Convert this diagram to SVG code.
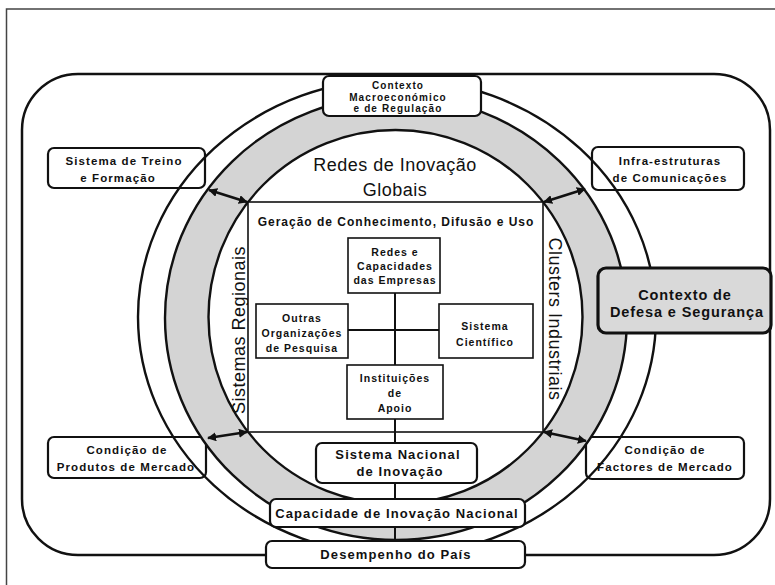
<svg xmlns="http://www.w3.org/2000/svg" width="775" height="585" viewBox="0 0 775 585">
  <style>
    .frame { fill: none; stroke: #444; stroke-width: 1.5; }
    .outline { fill: none; stroke: #111; stroke-width: 2.5; }
    .box { fill: #fff; stroke: #111; stroke-width: 2.2; }
    .sq { fill: #fff; stroke: #111; stroke-width: 1.6; }
    .ring { fill: none; stroke: #111; stroke-width: 2.4; }
    .band { fill: #d4d4d4; fill-rule: evenodd; stroke: none; }
    .link { fill: none; stroke: #111; stroke-width: 2; }
    .arrow { fill: none; stroke: #111; stroke-width: 2.6; marker-start: url(#head); marker-end: url(#head); }
    text { font-family: "Liberation Sans", Arial, sans-serif; fill: #111; text-anchor: middle; }
    .b { font-weight: bold; font-size: 11.5px; letter-spacing: 1.1px; }
    .g { font-weight: bold; font-size: 12px; letter-spacing: 1px; }
    .s { font-weight: bold; font-size: 10.5px; letter-spacing: 1px; }
    .t { font-weight: bold; font-size: 10px; letter-spacing: 1.1px; }
    .m { font-weight: bold; font-size: 13px; letter-spacing: 1.1px; }
    .big { font-size: 18px; letter-spacing: 0.5px; }
    .def { font-weight: bold; font-size: 14.5px; letter-spacing: 0.9px; }
  </style>
  <defs>
    <marker id="head" viewBox="0 0 10 10" refX="9" refY="5" markerWidth="9" markerHeight="9" markerUnits="userSpaceOnUse" orient="auto-start-reverse">
      <path d="M0,0 L10,5 L0,10 z" fill="#111"/>
    </marker>
  </defs>

  <!-- page frame (only its top and left edges fall on the page) -->
  <path class="frame" d="M6.5,585 V9 H775"/>

  <!-- rounded environment boundary -->
  <rect class="outline" x="22" y="74" width="748" height="481" rx="56" ry="56"/>

  <!-- side context boxes (crossed by the outer ring) -->
  <g id="treino">
    <rect class="box" x="48" y="148" width="157" height="40" rx="6"/>
    <text class="b" x="124" y="165">Sistema de Treino</text>
    <text class="b" x="118" y="182">e Formação</text>
  </g>
  <g id="infra">
    <rect class="box" x="592" y="147" width="152" height="43" rx="6"/>
    <text class="b" x="670" y="165">Infra-estruturas</text>
    <text class="b" x="670" y="182">de Comunicações</text>
  </g>
  <g id="produtos">
    <rect class="box" x="48" y="437" width="158" height="41" rx="6"/>
    <text class="b" x="127" y="454">Condição de</text>
    <text class="b" x="126" y="471">Produtos de Mercado</text>
  </g>
  <g id="factores">
    <rect class="box" x="586" y="437" width="158" height="42" rx="6"/>
    <text class="b" x="665" y="454">Condição de</text>
    <text class="b" x="665" y="471">Factores de Mercado</text>
  </g>

  <!-- ring: grey band between the middle ellipse and the inner circle -->
  <path class="band" d="M165,318 A231,222 0 1,0 627,318 A231,222 0 1,0 165,318 Z M208.5,317 A187,187 0 1,1 582.5,317 A187,187 0 1,1 208.5,317 Z"/>
  <ellipse class="ring" cx="397" cy="317" rx="259" ry="238"/>
  <ellipse class="ring" cx="396" cy="318" rx="231" ry="222"/>
  <circle class="ring" cx="395.5" cy="317" r="187"/>

  <text class="big" x="395" y="171">Redes de Inovação</text>
  <text class="big" x="395" y="196">Globais</text>
  <text class="big" transform="translate(245,330) rotate(-90)">Sistemas Regionais</text>
  <text class="big" transform="translate(549,319) rotate(90)">Clusters Industriais</text>

  <!-- knowledge generation square -->
  <g id="geracao">
    <rect class="sq" x="248" y="202" width="295" height="230"/>
    <text class="g" x="396" y="226">Geração de Conhecimento, Difusão e Uso</text>
  </g>

  <g id="connectors">
    <line class="link" x1="395" y1="293" x2="395" y2="365"/>
    <line class="link" x1="348" y1="330" x2="439" y2="330"/>
    <line class="link" x1="395" y1="419" x2="395" y2="541"/>
    <line class="arrow" x1="247" y1="202" x2="209" y2="190"/>
    <line class="arrow" x1="544" y1="202" x2="585" y2="189"/>
    <line class="arrow" x1="247" y1="432" x2="208" y2="438"/>
    <line class="arrow" x1="544" y1="432" x2="586" y2="441"/>
  </g>

  <g id="redes">
    <rect class="sq" x="348" y="238" width="92" height="55"/>
    <text class="s" x="395" y="256">Redes e</text>
    <text class="s" x="395" y="270">Capacidades</text>
    <text class="s" x="395" y="284">das Empresas</text>
  </g>
  <g id="outras">
    <rect class="sq" x="256" y="304" width="92" height="54"/>
    <text class="s" x="302" y="322">Outras</text>
    <text class="s" x="302" y="337">Organizações</text>
    <text class="s" x="302" y="352">de Pesquisa</text>
  </g>
  <g id="cientifico">
    <rect class="sq" x="439" y="304" width="94" height="54"/>
    <text class="s" x="485" y="330">Sistema</text>
    <text class="s" x="485" y="346">Científico</text>
  </g>
  <g id="instituicoes">
    <rect class="sq" x="347" y="365" width="96" height="54"/>
    <text class="s" x="395" y="382">Instituições</text>
    <text class="s" x="395" y="397">de</text>
    <text class="s" x="395" y="412">Apoio</text>
  </g>

  <!-- boxes sitting on top of the ring -->
  <g id="macro">
    <rect class="box" x="323" y="76" width="158" height="40" rx="6"/>
    <text class="t" x="398" y="89">Contexto</text>
    <text class="t" x="398" y="101">Macroeconómico</text>
    <text class="t" x="398" y="112">e de Regulação</text>
  </g>
  <g id="defesa">
    <rect x="598" y="268" width="173" height="65" rx="8" fill="#d9d9d9" stroke="#111" stroke-width="3.2"/>
    <text class="def" x="685" y="300">Contexto de</text>
    <text class="def" x="687" y="317">Defesa e Segurança</text>
  </g>
  <g id="nacional">
    <rect class="box" x="316" y="443" width="161" height="40" rx="6"/>
    <text class="m" x="398" y="459">Sistema Nacional</text>
    <text class="m" x="400" y="476">de Inovação</text>
  </g>
  <g id="capacidade">
    <rect class="box" x="270" y="499" width="255" height="28" rx="6"/>
    <text class="m" x="397" y="518">Capacidade de Inovação Nacional</text>
  </g>
  <g id="desempenho">
    <rect class="box" x="266" y="541" width="259" height="27" rx="6"/>
    <text class="m" x="396" y="559">Desempenho do País</text>
  </g>
</svg>
